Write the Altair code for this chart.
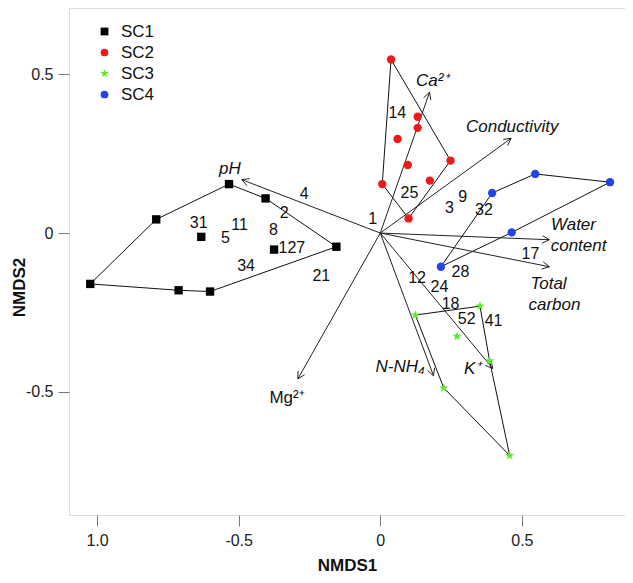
import math
import altair as alt
import pandas as pd

# ---------------- data ----------------
groups = ["SC1", "SC2", "SC3", "SC4"]

sc1_x = [-1.024, -0.791, -0.534, -0.405, -0.155, -0.375, -0.632, -0.601, -0.712]
sc1_y = [-0.160, 0.043, 0.154, 0.109, -0.043, -0.052, -0.012, -0.184, -0.180]
sc1_hull = [0, 1, 2, 3, 4, 7, 8]

sc2_x = [0.038, 0.132, 0.132, 0.061, 0.097, 0.248, 0.175, 0.007, 0.100]
sc2_y = [0.546, 0.366, 0.331, 0.296, 0.214, 0.228, 0.165, 0.154, 0.046]
sc2_hull = [0, 5, 8, 7]

sc3_x = [0.124, 0.352, 0.271, 0.386, 0.224, 0.457]
sc3_y = [-0.258, -0.230, -0.325, -0.402, -0.487, -0.700]
sc3_hull = [0, 1, 3, 5, 4]

sc4_x = [0.547, 0.811, 0.395, 0.464, 0.214]
sc4_y = [0.186, 0.160, 0.126, 0.002, -0.106]
sc4_hull = [4, 2, 0, 1, 3]

env_names = ["pH", "Ca2+", "Conductivity", "Water content", "Total carbon", "K+", "N-NH4", "Mg2+"]
env_x = [-0.489, 0.174, 0.462, 0.597, 0.597, 0.397, 0.188, -0.291]
env_y = [0.168, 0.443, 0.298, -0.021, -0.106, -0.426, -0.449, -0.459]

var_labels = ["pH", "Ca²⁺", "Conductivity", "Water", "content", "Total", "carbon", "K⁺", "N-NH₄", "Mg²⁺"]
var_lx = [-0.531, 0.185, 0.466, 0.682, 0.700, 0.594, 0.615, 0.326, 0.070, -0.329]
var_ly = [0.203, 0.479, 0.335, 0.026, -0.041, -0.161, -0.227, -0.429, -0.420, -0.518]
var_italic = [True, True, True, True, True, True, True, True, True, False]

site_labels = ["14", "25", "3", "9", "32", "1", "4", "2", "31", "11", "5", "8", "127",
               "34", "21", "17", "28", "12", "24", "18", "52", "41"]
site_x = [0.060, 0.103, 0.244, 0.291, 0.366, -0.027, -0.269, -0.339, -0.641, -0.497, -0.547,
          -0.377, -0.312, -0.474, -0.208, 0.530, 0.283, 0.130, 0.209, 0.248, 0.305, 0.400]
site_y = [0.378, 0.126, 0.080, 0.112, 0.074, 0.044, 0.122, 0.064, 0.033, 0.024, -0.015,
          0.009, -0.047, -0.103, -0.136, -0.065, -0.121, -0.142, -0.171, -0.222, -0.270, -0.278]

x_ticks = [-1.0, -0.5, 0.0, 0.5]
y_ticks = [-0.5, 0.0, 0.5]

# ---------------- layout ----------------
W, H = 556, 507
x_dom = [-1.099, 0.864]
y_dom = [-0.887, 0.708]
sx = W / (x_dom[1] - x_dom[0])
sy = H / (y_dom[1] - y_dom[0])

colors = ["#000000", "#ee1a1a", "#5ce82a", "#2344e8"]
star = ("M0,-1.15L0.27,-0.38L1.09,-0.36L0.44,0.14L0.68,0.93L0,0.46L-0.68,0.93"
        "L-0.44,0.14L-1.09,-0.36L-0.27,-0.38Z")
shapes = ["square", "circle", star, "circle"]

# ---------------- tables ----------------
all_x = [sc1_x, sc2_x, sc3_x, sc4_x]
all_y = [sc1_y, sc2_y, sc3_y, sc4_y]
hulls = [sc1_hull, sc2_hull, sc3_hull, sc4_hull]

pts = []
hull_rows = []
for g, xs, ys, h in zip(groups, all_x, all_y, hulls):
    for x, y in zip(xs, ys):
        pts.append({"g": g, "x": x, "y": y})
    for k, i in enumerate(h + [h[0]]):
        hull_rows.append({"g": g, "o": k, "x": xs[i], "y": ys[i]})
pts = pd.DataFrame(pts)
hull_df = pd.DataFrame(hull_rows)

arrow_df = pd.DataFrame({"n": env_names, "x0": 0.0, "y0": 0.0, "x": env_x, "y": env_y})
head_rows = []
L, th = 8.0, math.radians(28)
for n, ex, ey in zip(env_names, env_x, env_y):
    a = math.atan2(ey * sy, ex * sx)
    for s in (1, -1):
        head_rows.append({"n": n, "x0": ex, "y0": ey,
                          "x": ex - L * math.cos(a + s * th) / sx,
                          "y": ey - L * math.sin(a + s * th) / sy})
head_df = pd.DataFrame(head_rows)

var_df = pd.DataFrame({"t": var_labels, "x": var_lx, "y": var_ly, "it": var_italic})
site_df = pd.DataFrame({"t": site_labels, "x": site_x, "y": site_y})

# ---------------- encodings ----------------
font = "Liberation Sans"
xs_ = alt.Scale(domain=x_dom, nice=False, zero=False)
ys_ = alt.Scale(domain=y_dom, nice=False, zero=False)

x_axis = alt.Axis(values=x_ticks, grid=False, domain=False, tickSize=11, tickColor="#777",
                  labelFontSize=16, labelFont=font, labelColor="#222", labelPadding=6,
                  labelExpr="datum.value == -1 ? '1.0' : datum.value == 0 ? '0' : (datum.value < 0 ? '-0.5' : '0.5')",
                  title="NMDS1", titleFont=font, titleFontSize=17, titleFontWeight="bold",
                  titleColor="#111", titlePadding=9)
y_axis = alt.Axis(values=y_ticks, grid=False, domain=False, tickSize=11, tickColor="#777",
                  labelFontSize=16, labelFont=font, labelColor="#222", labelPadding=5,
                  labelExpr="datum.value == 0 ? '0' : (datum.value < 0 ? '-0.5' : '0.5')",
                  title="NMDS2", titleFont=font, titleFontSize=17, titleFontWeight="bold",
                  titleColor="#111", titleX=-58, titleY=279, titleBaseline="top")

X = alt.X("x:Q", scale=xs_, axis=x_axis)
Y = alt.Y("y:Q", scale=ys_, axis=y_axis)

hull = alt.Chart(hull_df).mark_line(color="#111", strokeWidth=1).encode(
    x=X, y=Y, detail="g:N", order="o:Q")

shafts = alt.Chart(arrow_df).mark_rule(color="#222", strokeWidth=1).encode(
    x=alt.X("x0:Q", scale=xs_, axis=x_axis), y=alt.Y("y0:Q", scale=ys_, axis=y_axis),
    x2="x:Q", y2="y:Q")
heads = alt.Chart(head_df).mark_rule(color="#222", strokeWidth=1).encode(
    x=alt.X("x0:Q", scale=xs_, axis=x_axis), y=alt.Y("y0:Q", scale=ys_, axis=y_axis),
    x2="x:Q", y2="y:Q")

points = alt.Chart(pts).mark_point(filled=True, opacity=1, size=70).encode(
    x=X, y=Y,
    color=alt.Color("g:N", scale=alt.Scale(domain=groups, range=colors),
                    legend=alt.Legend(title=None, orient="none", legendX=27, legendY=15,
                                      labelFont=font, labelFontSize=17, labelColor="#111",
                                      symbolSize=60, rowPadding=3, labelOffset=8,
                                      symbolStrokeWidth=0, padding=0)),
    shape=alt.Shape("g:N", scale=alt.Scale(domain=groups, range=shapes)),
)

var_text_it = alt.Chart(var_df[var_df["it"]]).mark_text(
    font=font, fontSize=17, fontStyle="italic", color="#111", align="center", baseline="middle"
).encode(x=X, y=Y, text="t:N")
var_text_n = alt.Chart(var_df[~var_df["it"]]).mark_text(
    font=font, fontSize=17, color="#111", align="center", baseline="middle"
).encode(x=X, y=Y, text="t:N")

site_text = alt.Chart(site_df).mark_text(
    font=font, fontSize=16, color="#111", align="center", baseline="middle"
).encode(x=X, y=Y, text="t:N")

chart = alt.layer(hull, shafts, heads, points, var_text_it, var_text_n, site_text).properties(
    width=W, height=H,
    autosize=alt.AutoSizeParams(type="none"),
    padding={"left": 61, "top": 0, "right": 0, "bottom": 60},
).configure_view(stroke="#777", strokeWidth=1.6).configure(background="white")

chart.save("out.html", embed_options={"renderer": "svg", "actions": False})
